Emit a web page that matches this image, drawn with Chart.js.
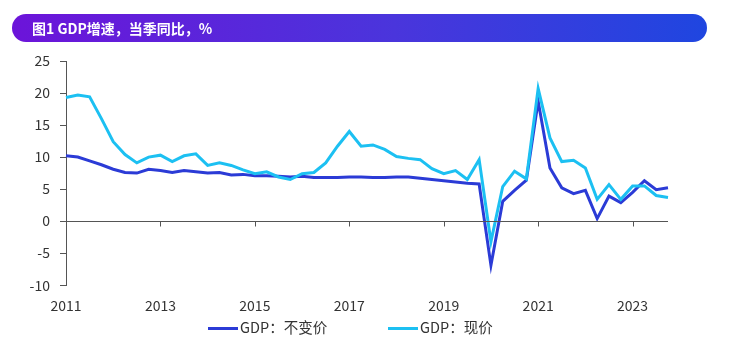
<!DOCTYPE html>
<html>
<head>
<meta charset="utf-8">
<script src="https://cdn.jsdelivr.net/npm/chart.js@4"></script>
<style>
  body { margin: 0; background: #fff; }
  #wrap { position: relative; width: 737px; height: 350px; }
  #title {
    position: absolute; left: 12px; top: 14px; width: 695px; height: 28px;
    border-radius: 14px;
    background: linear-gradient(90deg, #6c14d9 0%, #4a35dc 55%, #1f46e0 100%);
    color: #fff; font: bold 14px "Noto Sans CJK SC", sans-serif;
    line-height: 28px; padding-left: 20px; box-sizing: border-box;
  }
  .leg { position: absolute; top: 317px; font: 14.5px "Noto Sans CJK SC", sans-serif; color: #333; line-height: 20px; }
  .leg i { display: inline-block; width: 30px; height: 3px; vertical-align: middle; margin-right: 2px; margin-top: -2px; }
</style>
</head>
<body>
<div id="wrap">
  <div id="title">图1 GDP增速，当季同比，%</div>
  <canvas id="c" width="737" height="350"></canvas>
  <div class="leg" style="left:208px"><i style="background:#2b3bd6"></i>GDP：不变价</div>
  <div class="leg" style="left:388px"><i style="background:#1cc0f2"></i>GDP：现价</div>
</div>
<script>
// 季度标签 2011Q1 - 2023Q4
let quarters = [];
for (let y = 2011; y <= 2023; y++) {
    for (let q = 1; q <= 4; q++) quarters.push(y + 'Q' + q);
}

// GDP：不变价，当季同比 %
let realGdp = [10.2, 10.0, 9.4, 8.8, 8.1, 7.6, 7.5, 8.1,
               7.9, 7.6, 7.9, 7.7, 7.5, 7.6, 7.2, 7.3,
               7.1, 7.1, 7.0, 6.9, 7.0, 6.8, 6.8, 6.8,
               6.9, 6.9, 6.8, 6.8, 6.9, 6.9, 6.7, 6.5,
               6.3, 6.1, 5.9, 5.8, -6.9, 3.1, 4.8, 6.4,
               18.7, 8.3, 5.2, 4.3, 4.8, 0.4, 3.9, 2.9,
               4.5, 6.3, 4.9, 5.2];

// GDP：现价，当季同比 %
let nominalGdp = [19.3, 19.7, 19.4, 16.0, 12.4, 10.4, 9.1, 10.0,
                  10.3, 9.3, 10.2, 10.5, 8.7, 9.1, 8.7, 8.0,
                  7.4, 7.7, 6.9, 6.5, 7.4, 7.6, 9.1, 11.7,
                  14.0, 11.7, 11.9, 11.2, 10.1, 9.8, 9.6, 8.2,
                  7.4, 7.9, 6.5, 9.6, -3.2, 5.4, 7.8, 6.6,
                  20.7, 13.0, 9.3, 9.5, 8.3, 3.4, 5.7, 3.4,
                  5.5, 5.5, 4.0, 3.7];

let yTicks = [-10, -5, 0, 5, 10, 15, 20, 25];

const font = '"Noto Sans CJK SC", "Noto Sans", sans-serif';

// 零轴和刻度线
const zeroAxis = {
    id: 'zeroAxis',
    afterDatasetsDraw(chart) {
        let ctx = chart.ctx;
        let x = chart.scales.x, y = chart.scales.y;
        let y0 = Math.round(y.getPixelForValue(0)) + 0.5;
        ctx.save();
        ctx.strokeStyle = '#555';
        ctx.lineWidth = 1;
        ctx.beginPath();
        ctx.moveTo(chart.chartArea.left, y0);
        ctx.lineTo(chart.chartArea.right, y0);
        for (let i = 0; i < quarters.length; i += 8) {
            let px = Math.round(x.getPixelForValue(i)) + 0.5;
            ctx.moveTo(px, y0);
            ctx.lineTo(px, y0 + 5);
        }
        ctx.stroke();
        ctx.restore();
    }
};

new Chart(document.getElementById('c'), {
    type: 'line',
    data: {
        labels: quarters,
        datasets: [{
            label: 'GDP：不变价',
            data: realGdp,
            borderColor: '#2b3bd6',
            borderWidth: 3,
            pointRadius: 0,
            tension: 0,
            order: 2
        }, {
            label: 'GDP：现价',
            data: nominalGdp,
            borderColor: '#1cc0f2',
            borderWidth: 3,
            pointRadius: 0,
            tension: 0,
            order: 1
        }]
    },
    options: {
        responsive: false,
        animation: false,
        layout: { padding: { left: 0, right: 69, top: 61, bottom: 32 } },
        plugins: {
            legend: { display: false },
            tooltip: { enabled: false }
        },
        scales: {
            x: {
                grid: { display: false },
                border: { display: false },
                ticks: {
                    autoSkip: false,
                    maxRotation: 0,
                    padding: 4,
                    color: '#333',
                    font: { family: font, size: 14 },
                    callback: function(v, i) {
                        return i % 8 === 0 ? quarters[i].slice(0, 4) : '';
                    }
                }
            },
            y: {
                min: -10,
                max: 25,
                afterFit: function(s) { s.width = 66; },
                afterBuildTicks: function(s) { s.ticks = yTicks.map(v => ({ value: v })); },
                grid: { drawOnChartArea: false, drawTicks: true, tickLength: 6, color: '#555' },
                border: { display: true, color: '#555', width: 1 },
                ticks: {
                    padding: 10,
                    color: '#333',
                    font: { family: font, size: 14 }
                }
            }
        }
    },
    plugins: [zeroAxis]
});
</script>
</body>
</html>
